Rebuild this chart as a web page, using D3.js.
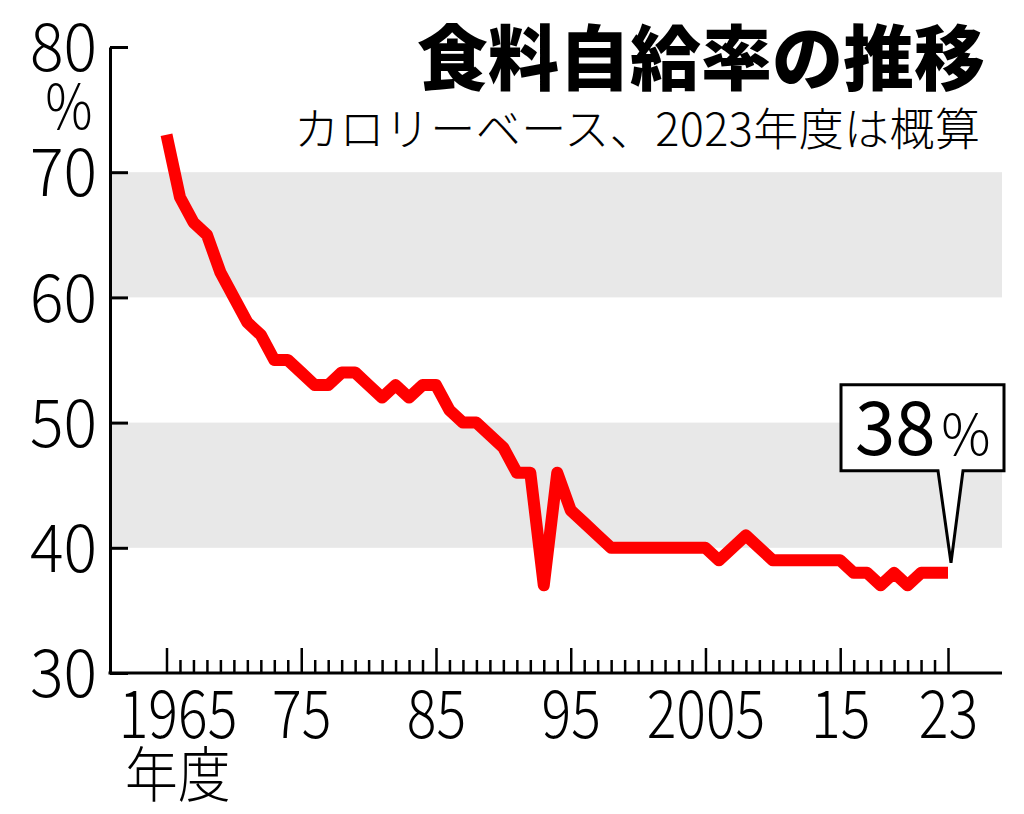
<!DOCTYPE html>
<html>
<head>
<meta charset="utf-8">
<script src="https://cdn.jsdelivr.net/npm/d3@7"></script>
<style>
  body { margin: 0; background: #fff; }
  svg { display: block; }
</style>
</head>
<body>
<div id="chart"></div>
<script>
// data: calorie-based food self-sufficiency rate (%), fiscal years
var years = d3.range(1965, 2024);
var rates = [73, 68, 66, 65, 62, 60, 58, 57, 55, 55,
             54, 53, 53, 54, 54, 53, 52, 53, 52, 53,
             53, 51, 50, 50, 49, 48, 46, 46, 37, 46,
             43, 42, 41, 40, 40, 40, 40, 40, 40, 40,
             40, 39, 40, 41, 40, 39, 39, 39, 39, 39,
             39, 38, 38, 37, 38, 37, 38, 38, 38];
var yTicks = [30, 40, 50, 60, 70, 80];
var bands = [[60, 70], [40, 50]];
var majorYears = [1965, 1975, 1985, 1995, 2005, 2015, 2023];
var majorLabels = ["1965", "75", "85", "95", "2005", "15", "23"];

var data = years.map(function(y, i) { return {year: y, rate: rates[i]}; });

var width = 1024, height = 814;
var plotLeft = 110, plotRight = 1002, plotTop = 47, plotBottom = 673;

var svg = d3.select("#chart")
  .append("svg")
    .attr("width", width)
    .attr("height", height);

var x = d3.scaleLinear()
  .domain([1965, 2023])
  .range([166.5, 948]);

var y = d3.scaleLinear()
  .domain([30, 80])
  .range([plotBottom, plotTop]);

// gray bands
svg.selectAll("rect.band")
  .data(bands)
  .enter()
  .append("rect")
    .attr("class", "band")
    .attr("x", plotLeft)
    .attr("width", plotRight - plotLeft)
    .attr("y", function(d) { return y(d[1]); })
    .attr("height", function(d) { return y(d[0]) - y(d[1]); })
    .attr("fill", "#e8e8e8");

var numFont = "'Noto Sans CJK JP', 'Liberation Sans', sans-serif";
var jpFont = "'Noto Sans CJK JP', sans-serif";

// y axis
var yAxis = svg.append("g")
  .attr("transform", "translate(" + plotLeft + ",0)")
  .call(d3.axisLeft(y).tickValues(yTicks).tickSizeInner(-18).tickSizeOuter(0));
yAxis.select(".domain").attr("stroke-width", 3);
yAxis.selectAll(".tick line").attr("stroke-width", 3);
yAxis.selectAll(".tick text")
  .attr("x", 0)
  .attr("dy", "0.36em")
  .attr("transform", "translate(-13,0) scale(0.95,1)")
  .attr("font-family", numFont)
  .attr("font-weight", 300)
  .attr("font-size", 66)
  .attr("fill", "#000");

svg.append("text")
  .attr("transform", "translate(69,129) scale(0.85,1)")
  .attr("text-anchor", "middle")
  .attr("font-family", numFont)
  .attr("font-weight", 300)
  .attr("font-size", 62)
  .text("%");

// x axis
var xAxis = svg.append("g")
  .attr("transform", "translate(0," + plotBottom + ")")
  .call(d3.axisBottom(x)
    .tickValues(years)
    .tickSizeInner(-13)
    .tickSizeOuter(0)
    .tickPadding(16)
    .tickFormat(function(d) {
      var i = majorYears.indexOf(d);
      return i >= 0 ? majorLabels[i] : "";
    }));
xAxis.select(".domain").remove();
xAxis.selectAll(".tick line")
  .attr("stroke-width", 2.5)
  .attr("y2", function(d) { return majorYears.indexOf(d) >= 0 ? -25 : -13; });
xAxis.selectAll(".tick text")
  .attr("dy", "0.74em")
  .attr("transform", function(d) { return "translate(" + (d === 1965 ? 11 : 0) + ",0) scale(0.84,1)"; })
  .attr("font-family", numFont)
  .attr("font-weight", 300)
  .attr("font-size", 66)
  .attr("fill", "#000");
svg.append("line")
  .attr("x1", plotLeft - 1.5)
  .attr("x2", plotRight)
  .attr("y1", plotBottom)
  .attr("y2", plotBottom)
  .attr("stroke", "#000")
  .attr("stroke-width", 3);

svg.append("text")
  .attr("transform", "translate(125,797) scale(0.88,1)")
  .attr("font-family", jpFont)
  .attr("font-weight", 300)
  .attr("font-size", 60)
  .text("年度");

// line
var line = d3.line()
  .x(function(d) { return x(d.year); })
  .y(function(d) { return y(d.rate); });

svg.append("path")
  .datum(data)
  .attr("d", line)
  .attr("fill", "none")
  .attr("stroke", "#ff0000")
  .attr("stroke-width", 12)
  .attr("stroke-linejoin", "round");

// callout for last value
var last = data[data.length - 1];
var tipX = x(last.year) + 3, tipY = y(last.rate) - 10;
var bx0 = tipX - 110, bx1 = tipX + 53, by0 = tipY - 178, by1 = tipY - 92;
svg.append("path")
  .attr("d", "M" + bx0 + "," + by0 + "H" + bx1 + "V" + by1 + "H" + (tipX + 12) +
             "L" + tipX + "," + tipY + "L" + (tipX - 13) + "," + by1 + "H" + bx0 + "Z")
  .attr("fill", "#fff")
  .attr("stroke", "#000")
  .attr("stroke-width", 3)
  .attr("stroke-linejoin", "miter");

var callout = svg.append("text")
  .attr("transform", "translate(" + (bx0 + 14) + "," + (by1 - 16) + ") scale(0.98,1)")
  .attr("font-family", numFont)
  .attr("font-weight", 400);
callout.append("tspan").attr("font-size", 74).text(last.rate);
callout.append("tspan").attr("font-size", 56).attr("font-weight", 300).attr("dx", 6).text("%");

// titles
svg.append("text")
  .attr("x", 985)
  .attr("y", 84)
  .attr("text-anchor", "end")
  .attr("font-family", jpFont)
  .attr("font-weight", 900)
  .attr("font-size", 71)
  .text("食料自給率の推移");

svg.append("text")
  .attr("x", 980)
  .attr("y", 146)
  .attr("text-anchor", "end")
  .attr("textLength", 686)
  .attr("lengthAdjust", "spacing")
  .attr("font-family", jpFont)
  .attr("font-weight", 300)
  .attr("font-size", 45)
  .text("カロリーベース、2023年度は概算");
</script>
</body>
</html>
